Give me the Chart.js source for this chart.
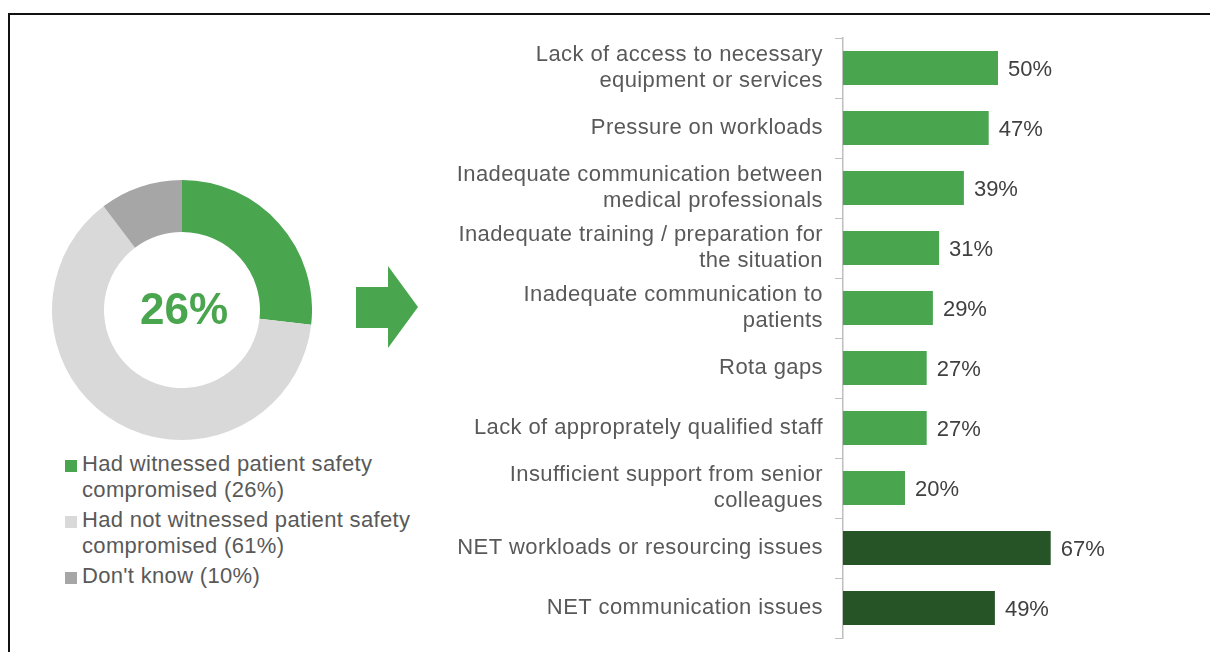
<!DOCTYPE html>
<html>
<head>
<meta charset="utf-8">
<script src="https://cdn.jsdelivr.net/npm/chart.js@4"></script>
<style>
  html, body { margin: 0; padding: 0; background: #fff; }
  body { width: 1210px; height: 652px; overflow: hidden; position: relative; font-family: "Liberation Sans", Arial, sans-serif; }
  #frame { position: absolute; left: 8px; top: 13px; width: 1220px; height: 700px; border: 2px solid #111; box-sizing: border-box; }
  #donutWrap { position: absolute; left: 52px; top: 180px; width: 260px; height: 260px; }
  #barWrap { position: absolute; left: 430px; top: 1px; width: 780px; height: 651px; }
  #arrow { position: absolute; left: 0; top: 0; }
  #legend { position: absolute; left: 65px; top: 451px; width: 370px; }
  .item { display: flex; align-items: flex-start; margin-bottom: 4px; }
  .sw { width: 12px; height: 12px; margin-top: 9px; margin-right: 5px; flex: none; }
  .txt { font-size: 22px; line-height: 26px; color: #595959; width: 345px; letter-spacing: 0.32px; }
</style>
</head>
<body>
<div id="frame"></div>
<svg id="arrow" width="1210" height="652">
  <polygon points="356,287 388,287 388,266 418,307 388,348 388,328 356,328" fill="#4aa54f"/>
</svg>
<div id="donutWrap"><canvas id="donut"></canvas></div>
<div id="legend"></div>
<div id="barWrap"><canvas id="bars"></canvas></div>
<script>
// ---- data ----
const donutLabels = [
  'Had witnessed patient safety compromised (26%)',
  'Had not witnessed patient safety compromised (61%)',
  "Don't know (10%)"
];
const donutValues = [26, 61, 10];
const centerLabel = '26%';

const reasonLabels = [
  ['Lack of access to necessary', 'equipment or services'],
  ['Pressure on workloads'],
  ['Inadequate communication between', 'medical professionals'],
  ['Inadequate training / preparation for', 'the situation'],
  ['Inadequate communication to', 'patients'],
  ['Rota gaps'],
  ['Lack of approprately qualified staff'],
  ['Insufficient support from senior', 'colleagues'],
  ['NET workloads or resourcing issues'],
  ['NET communication issues']
];
const reasonValues = [50, 47, 39, 31, 29, 27, 27, 20, 67, 49];
const reasonIsNet = [false, false, false, false, false, false, false, false, true, true];

// ---- styles ----
const FONT = '"Liberation Sans", Arial, sans-serif';
const GREEN = '#4aa54f';
const DARK_GREEN = '#265427';
const donutColors = [GREEN, '#d9d9d9', '#a6a6a6'];

// legend
const legendEl = document.getElementById('legend');
donutLabels.forEach((lab, i) => {
  const it = document.createElement('div');
  it.className = 'item';
  const sw = document.createElement('div');
  sw.className = 'sw';
  sw.style.background = donutColors[i];
  const tx = document.createElement('div');
  tx.className = 'txt';
  tx.textContent = lab;
  it.appendChild(sw); it.appendChild(tx);
  legendEl.appendChild(it);
});

// donut
const centerText = {
  id: 'centerText',
  afterDraw(chart) {
    const ctx = chart.ctx;
    const arc = chart.getDatasetMeta(0).data[0];
    ctx.save();
    ctx.font = 'bold 44px ' + FONT;
    ctx.fillStyle = GREEN;
    ctx.textAlign = 'center';
    ctx.textBaseline = 'middle';
    ctx.fillText(centerLabel, arc.x + 2, arc.y + 2);
    ctx.restore();
  }
};
new Chart(document.getElementById('donut'), {
  type: 'doughnut',
  data: { labels: donutLabels, datasets: [{ data: donutValues, backgroundColor: donutColors, borderWidth: 0 }] },
  options: {
    responsive: true, maintainAspectRatio: false, animation: false,
    cutout: '60%',
    layout: { padding: 0 },
    plugins: { legend: { display: false }, tooltip: { enabled: false } }
  },
  plugins: [centerText]
});

// bars
const spacing = {
  id: 'spacing',
  beforeDraw(chart) { chart.ctx.letterSpacing = '0.4px'; },
  afterDraw(chart) { chart.ctx.letterSpacing = '0px'; }
};
const valueLabels = {
  id: 'valueLabels',
  afterDatasetsDraw(chart) {
    const ctx = chart.ctx;
    const meta = chart.getDatasetMeta(0);
    ctx.save();
    ctx.letterSpacing = '0px';
    ctx.font = '22px ' + FONT;
    ctx.fillStyle = '#404040';
    ctx.textAlign = 'left';
    ctx.textBaseline = 'middle';
    meta.data.forEach((bar, i) => {
      ctx.fillText(reasonValues[i] + '%', bar.x + 10, bar.y + 2);
    });
    ctx.restore();
  }
};
new Chart(document.getElementById('bars'), {
  type: 'bar',
  data: {
    labels: reasonLabels,
    datasets: [{
      data: reasonValues,
      backgroundColor: reasonIsNet.map(n => n ? DARK_GREEN : GREEN),
      borderWidth: 0,
      barPercentage: 0.57,
      categoryPercentage: 1
    }]
  },
  options: {
    indexAxis: 'y',
    responsive: true, maintainAspectRatio: false, animation: false,
    layout: { padding: { top: 37, bottom: 14, left: 0, right: 57 } },
    plugins: { legend: { display: false }, tooltip: { enabled: false } },
    scales: {
      x: { display: false, min: 0, max: 100 },
      y: {
        afterFit(scale) { scale.width = 413; scale.paddingTop = 0; scale.paddingBottom = 0; },
        grid: { drawOnChartArea: false, drawTicks: true, tickLength: 8, color: '#bfbfbf', lineWidth: 1, offset: true },
        border: { display: true, color: '#bfbfbf', width: 1.5 },
        ticks: { padding: 12, color: '#595959', font: { family: FONT, size: 22, lineHeight: 1.15 } }
      }
    }
  },
  plugins: [spacing, valueLabels]
});
</script>
</body>
</html>
